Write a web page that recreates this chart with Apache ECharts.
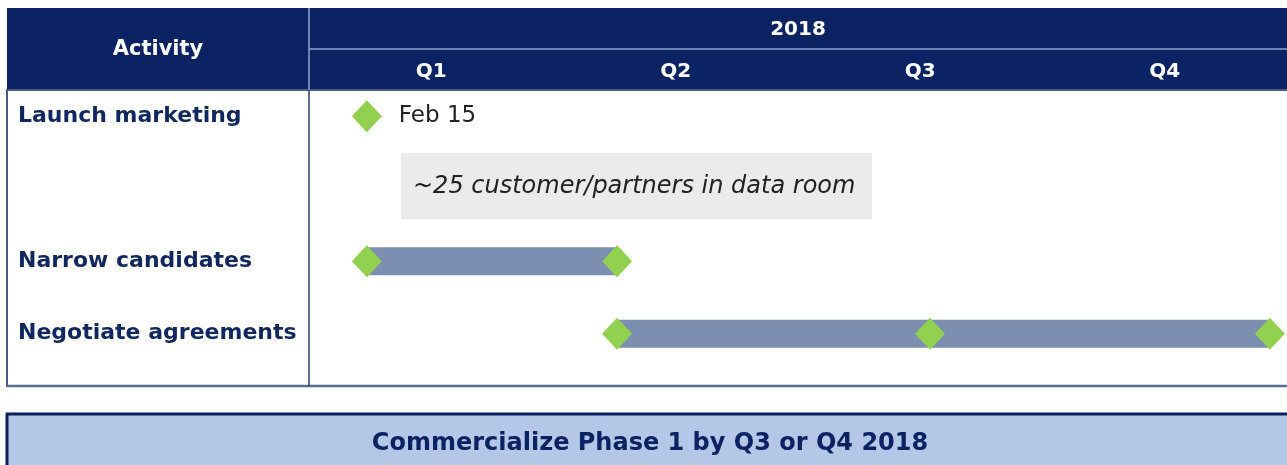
<!DOCTYPE html>
<html>
<head>
<meta charset="utf-8">
<script src="https://cdn.jsdelivr.net/npm/echarts@6/dist/echarts.min.js"></script>
<style>
  html, body { margin: 0; padding: 0; background: #fff; }
  #chart { width: 1287px; height: 465px; }
</style>
</head>
<body>
<div id="chart"></div>
<script>
// rows of the plan (second row only holds the note box)
var activities = ['Launch marketing', '', 'Narrow candidates', 'Negotiate agreements'];
var quarters = ['Q1', 'Q2', 'Q3', 'Q4'];
var years = ['2018'];
// time in months from Jan 1 2018
var barRows = [2, 3];
var barStart = [0.71, 3.78];
var barEnd = [3.78, 11.79];
var mileRows = [0, 2, 2, 3, 3, 3];
var mileTimes = [0.71, 0.71, 3.78, 3.78, 7.62, 11.79];
var mileLabels = ['Feb 15', '', '', '', '', ''];
var note = '~25 customer/partners in data room';
var footer = 'Commercialize Phase 1 by Q3 or Q4 2018';

var navy = '#0b2263';
var font = 'DejaVu Sans';

var bars = barRows.map(function (r, i) { return [r, barStart[i], barEnd[i]]; });
var miles = mileRows.map(function (r, i) {
    var d = { value: [mileTimes[i], r] };
    if (mileLabels[i]) {
        d.label = { show: true, formatter: mileLabels[i] };
    }
    return d;
});

var chart = echarts.init(document.getElementById('chart'));
var option = {
    animation: false,
    textStyle: { fontFamily: font },
    grid: { left: 309, top: 80, width: 984, height: 290 },
    xAxis: [{
        type: 'value', min: 0, max: 12, show: false
    }, {
        type: 'category', position: 'top', data: quarters, z: 10,
        boundaryGap: true,
        axisLine: { show: false }, axisTick: { show: false },
        axisLabel: { margin: 8, verticalAlign: 'middle', color: '#fff', fontWeight: 'bold', fontSize: 20, fontFamily: font }
    }, {
        type: 'category', position: 'top', data: years, offset: 42, z: 10,
        boundaryGap: true,
        axisLine: { show: false }, axisTick: { show: false },
        axisLabel: { margin: 8, verticalAlign: 'middle', color: '#fff', fontWeight: 'bold', fontSize: 20, fontFamily: font }
    }],
    yAxis: {
        type: 'category', inverse: true, data: activities,
        axisLine: { show: false }, axisTick: { show: false }, splitLine: { show: false },
        axisLabel: { align: 'left', margin: 291, color: '#10275f', fontWeight: 'bold', fontSize: 22, fontFamily: font }
    },
    graphic: [
        { type: 'rect', z: 0, shape: { x: 7, y: 8, width: 1300, height: 82 }, style: { fill: navy } },
        { type: 'line', z: 1, shape: { x1: 309, y1: 49, x2: 1300, y2: 49 }, style: { stroke: '#8ea3cc', lineWidth: 1.5 } },
        { type: 'line', z: 1, shape: { x1: 309, y1: 8, x2: 309, y2: 90 }, style: { stroke: '#8ea3cc', lineWidth: 1.5 } },
        { type: 'text', z: 1, x: 158, y: 50, style: { text: 'Activity', fill: '#fff', font: 'bold 21px ' + font, textAlign: 'center', textVerticalAlign: 'middle' } },
        { type: 'rect', z: 0, shape: { x: 7, y: 90, width: 1300, height: 296 }, style: { fill: 'none', stroke: '#4a5b82', lineWidth: 2 } },
        { type: 'line', z: 1, shape: { x1: 7, y1: 386, x2: 1300, y2: 386 }, style: { stroke: '#5b6b8f', lineWidth: 2.5 } },
        { type: 'line', z: 1, shape: { x1: 309, y1: 90, x2: 309, y2: 386 }, style: { stroke: '#2d3d66', lineWidth: 1.5 } },
        { type: 'rect', z: 1, shape: { x: 401, y: 153, width: 471, height: 66 }, style: { fill: '#ebebeb' } },
        { type: 'text', z: 2, x: 413, y: 187, style: { text: note, fill: '#222', font: 'italic 24px ' + font, textVerticalAlign: 'middle' } },
        { type: 'rect', z: 0, shape: { x: 7, y: 414, width: 1300, height: 80 }, style: { fill: '#b4c7e7', stroke: '#0a1f5c', lineWidth: 3 } },
        { type: 'text', z: 1, x: 650, y: 444, style: { text: footer, fill: navy, font: 'bold 24px ' + font, textAlign: 'center', textVerticalAlign: 'middle' } }
    ],
    series: [{
        type: 'custom',
        xAxisIndex: 0,
        data: bars,
        renderItem: function (params, api) {
            var a = api.coord([api.value(1), api.value(0)]);
            var b = api.coord([api.value(2), api.value(0)]);
            var h = 28;
            return {
                type: 'rect',
                shape: { x: a[0], y: a[1] - h / 2, width: b[0] - a[0], height: h },
                style: { fill: '#7d8fb1' }
            };
        }
    }, {
        type: 'scatter',
        xAxisIndex: 0,
        symbol: 'diamond',
        symbolSize: [30, 32],
        itemStyle: { color: '#92d050', opacity: 1 },
        label: { show: false, position: 'right', distance: 17, color: '#222', fontSize: 23, fontFamily: font },
        data: miles,
        z: 5
    }]
};
chart.setOption(option);
</script>
</body>
</html>
